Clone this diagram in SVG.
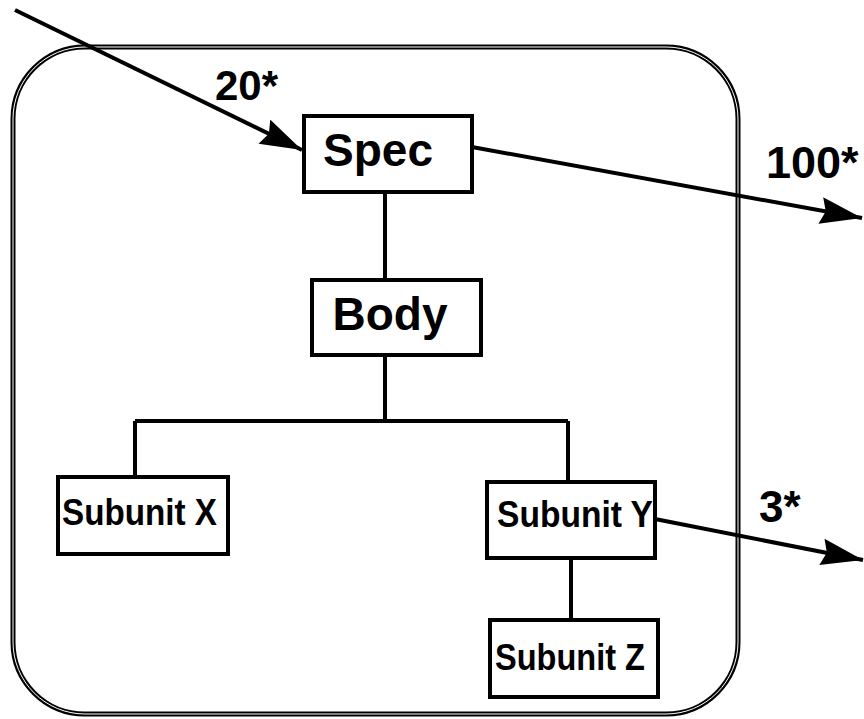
<svg xmlns="http://www.w3.org/2000/svg" width="864" height="719" viewBox="0 0 864 719">
<defs>
<style>
.box{fill:#fff;stroke:#000;stroke-width:4}
.ln{fill:none;stroke:#000;stroke-width:4}
.t{font-family:"Liberation Sans",Arial,sans-serif;font-weight:bold;fill:#000}
</style>
<marker id="ah" viewBox="0 0 10 6.4" markerWidth="10.5" markerHeight="6.7" refX="10" refY="3.2" orient="auto" markerUnits="strokeWidth">
<path d="M0,0 L10,3.2 L0,6.4 L1.2,3.2 Z" fill="#000"/>
</marker>
</defs>
<rect width="864" height="719" fill="#fff"/>
<g id="frame">
<rect x="13" y="47" width="725" height="667" rx="72" ry="72" fill="none" stroke="#000" stroke-width="5"/>
<rect x="13" y="47" width="725" height="667" rx="72" ry="72" fill="none" stroke="#fff" stroke-width="1"/>
</g>
<g id="connectors">
<path class="ln" d="M385,192 V280"/>
<path class="ln" d="M385,355 V421 M135,421 H568 M135,421 V477 M568,421 V482"/>
<path class="ln" d="M571,558 V620"/>
<path class="ln" d="M15,10 L302,150" marker-end="url(#ah)"/>
<path class="ln" d="M472,147 L862,218" marker-end="url(#ah)"/>
<path class="ln" d="M655,519 L863,560" marker-end="url(#ah)"/>
<text class="t" x="215" y="100" font-size="42">20*</text>
<text class="t" x="766" y="178" font-size="45">100*</text>
<text class="t" x="759" y="522" font-size="44">3*</text>
</g>
<g id="spec">
<rect class="box" x="304" y="116" width="168" height="76"/>
<text class="t" x="378" y="166" font-size="46" text-anchor="middle">Spec</text>
</g>
<g id="body">
<rect class="box" x="312" y="280" width="169" height="75"/>
<text class="t" x="390" y="330" font-size="46" text-anchor="middle">Body</text>
</g>
<g id="subunitX">
<rect class="box" x="58" y="477" width="170" height="77"/>
<text class="t" x="62" y="525" font-size="37" textLength="155" lengthAdjust="spacingAndGlyphs">Subunit X</text>
</g>
<g id="subunitY">
<rect class="box" x="487" y="482" width="168" height="76"/>
<text class="t" x="497" y="527" font-size="37" textLength="156" lengthAdjust="spacingAndGlyphs">Subunit Y</text>
</g>
<g id="subunitZ">
<rect class="box" x="490" y="620" width="168" height="77"/>
<text class="t" x="495" y="670" font-size="37" textLength="150" lengthAdjust="spacingAndGlyphs">Subunit Z</text>
</g>
</svg>
